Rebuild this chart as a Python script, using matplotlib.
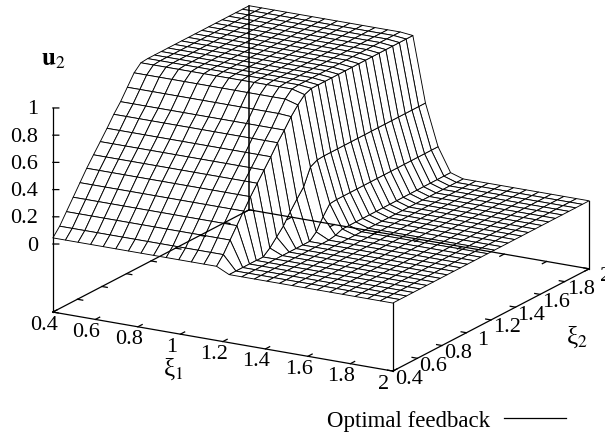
# Optimal feedback surface, u2 over xi1 and xi2
import numpy as np
import matplotlib
matplotlib.use("Agg")
import matplotlib.pyplot as plt
from matplotlib.lines import Line2D
from mpl_toolkits.mplot3d import proj3d

plt.rcParams["font.family"] = ["Liberation Serif", "DejaVu Serif"]
plt.rcParams["mathtext.fontset"] = "stix"

# Grid of the surface
xi1 = np.linspace(0.4, 2, 28)
xi2 = np.linspace(0.4, 2, 30)

# u2 read along xi2, one list per kind of column
u2_slope = [0.045, 0.105, 0.186, 0.266, 0.347, 0.427, 0.5, 0.571, 0.643, 0.72, 0.787, 0.867, 0.947, 0.995,
            1, 1, 1, 1, 1, 1, 1, 1, 1, 1, 1, 1, 1, 1, 1, 1]
u2_edge = [0.045, 0.105, 0.186, 0.266, 0.347, 0.427, 0.5, 0.571, 0.643, 0.72, 0.787, 0.86, 0.92, 0.97,
           0.99, 0.99, 0.99, 0.99, 0.99, 0.99, 0.99, 0.99, 0.99, 0.99, 0.99, 0.99, 0.99, 0.99, 0.99, 0.99]
u2_step1 = [0, 0, 0, 0, 0, 0, 0.04, 0.095, 0.15, 0.227, 0.296, 0.36, 0.48, 0.506,
            0.51, 0.51, 0.51, 0.51, 0.51, 0.51, 0.51, 0.51, 0.51, 0.51, 0.51, 0.51, 0.51, 0.51, 0.51, 0.51]
u2_step2 = [0, 0, 0, 0, 0, 0, 0, 0, 0, 0, 0, 0.045, 0.13, 0.2,
            0.205, 0.205, 0.205, 0.205, 0.205, 0.205, 0.205, 0.205, 0.205, 0.205, 0.205, 0.205, 0.205, 0.205, 0.205, 0.205]
u2_step3 = [0, 0, 0, 0, 0, 0, 0, 0, 0, 0, 0, 0, 0.01, 0.03,
            0.03, 0.03, 0.03, 0.03, 0.03, 0.03, 0.03, 0.03, 0.03, 0.03, 0.03, 0.03, 0.03, 0.03, 0.03, 0.03]
u2_flat = [0] * 30

xi1_ticks = [0.4, 0.6, 0.8, 1, 1.2, 1.4, 1.6, 1.8, 2]
xi2_ticks = [0.4, 0.6, 0.8, 1, 1.2, 1.4, 1.6, 1.8, 2]
u2_ticks = [0, 0.2, 0.4, 0.6, 0.8, 1]

columns = [u2_slope] * 13 + [u2_edge, u2_step1, u2_step2, u2_step3] + [u2_flat] * 11
Z = np.array(columns).T
X, Y = np.meshgrid(xi1, xi2)

fig = plt.figure(figsize=(6.05, 4.36), dpi=100)
side = 577.6
ax = fig.add_axes([24.4 / 605, -49 / 436, side / 605, side / 436], projection="3d", proj_type="ortho")
ax.computed_zorder = False
ax.view_init(elev=17.5, azim=-60)
ax.set_box_aspect((392.6, 392.6, 214))
ax.set_xlim(0.4, 2, view_margin=0)
ax.set_ylim(0.4, 2, view_margin=0)
ax.set_zlim(-0.5, 1, view_margin=0)
ax.set_axis_off()

ax.plot_surface(X, Y, Z, rstride=1, cstride=1, color="white", edgecolor="black",
                linewidth=0.65, shade=False, antialiased=True, zorder=1)


def line(xs, ys, zs, lw=0.9):
    ax.plot(xs, ys, zs, color="black", linewidth=lw, zorder=5)


def label(x, y, z, text, dx, dy, ha="center"):
    # put a 2D label at a pixel offset from a point of the box
    px, py, _ = proj3d.proj_transform(x, y, z, ax.get_proj())
    ax.annotate(text, xy=(px, py), xytext=(dx, dy), textcoords="offset pixels", fontsize=16,
                ha=ha, va="center", annotation_clip=False, zorder=6)


# Border of the box, drawn over the surface like gnuplot does
line([0.4, 2], [0.4, 0.4], [-0.5, -0.5])
line([2, 2], [0.4, 2], [-0.5, -0.5])
line([0.4, 0.4], [0.4, 2], [-0.5, -0.5])
line([0.4, 2], [2, 2], [-0.5, -0.5])
line([0.4, 0.4], [0.4, 0.4], [-0.5, 1])
line([0.4, 0.4], [2, 2], [-0.5, 1], lw=1.1)
line([2, 2], [0.4, 0.4], [-0.5, 0])
line([2, 2], [2, 2], [-0.5, 0])

# Ticks and their labels
for t in xi1_ticks:
    line([t, t], [0.4, 0.435], [-0.5, -0.5])
    line([t, t], [2, 1.965], [-0.5, -0.5])
    label(t, 0.4, -0.5, str(t), -9, -13)
for t in xi2_ticks:
    line([2, 1.975], [t, t], [-0.5, -0.5])
    line([0.4, 0.425], [t, t], [-0.5, -0.5])
    label(2, t, -0.5, str(t), 16, -8)
for t in u2_ticks:
    line([0.4, 0.421], [0.4, 0.412], [t, t])
    label(0.4, 0.4, t, str(t), -15, -2, ha="right")

# Axis names and legend
fig.text(173 / 605, 1 - 369 / 436, "ξ$_1$", fontsize=18, ha="center", va="center")
fig.text(577 / 605, 1 - 337 / 436, "ξ$_2$", fontsize=18, ha="center", va="center")
fig.text(53 / 605, 1 - 60 / 436, r"$\mathbf{u}_2$", fontsize=18, ha="center", va="center")
fig.text(490 / 605, 1 - 421 / 436, "Optimal feedback", fontsize=16.5, ha="right", va="center")
fig.add_artist(Line2D([504 / 605, 566 / 605], [1 - 418 / 436, 1 - 418 / 436], color="black", linewidth=0.9))

fig.savefig("out.png", dpi=100)
